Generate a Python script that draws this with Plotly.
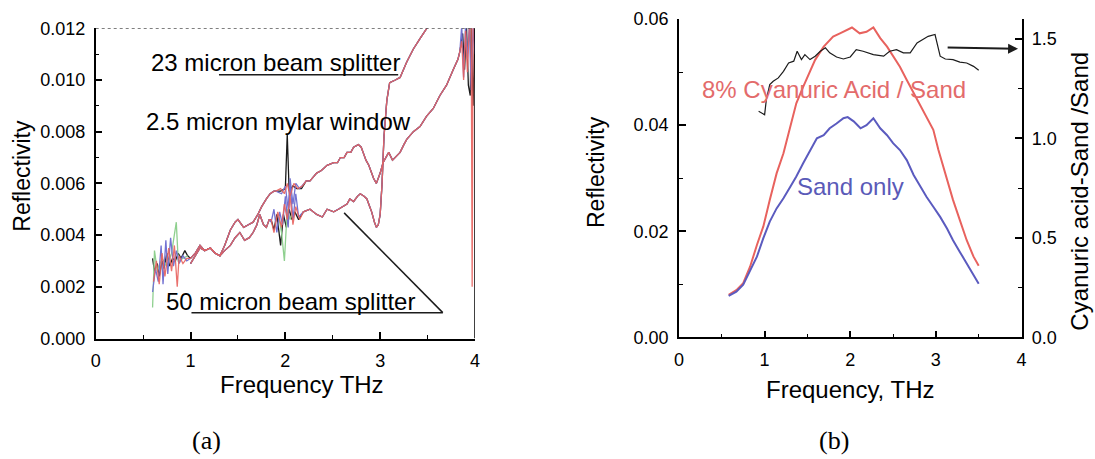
import plotly.graph_objects as go

# ---------------- Panel (a) data ----------------
# low-frequency noisy segment (per colour)
a_low_x_black = [0.60, 0.62, 0.65, 0.67, 0.70, 0.72, 0.75, 0.78, 0.81, 0.84, 0.87, 0.90, 0.94, 0.97]
a_low_y_black = [0.0031, 0.0026, 0.0029, 0.0024, 0.0030, 0.0027, 0.0033, 0.0028, 0.0031, 0.0030, 0.0033, 0.0031, 0.0034, 0.0032]
a_low_x_blue = [0.60, 0.63, 0.66, 0.69, 0.71, 0.74, 0.76, 0.79, 0.82, 0.85, 0.88, 0.92, 0.96]
a_low_y_blue = [0.0018, 0.0027, 0.0022, 0.0036, 0.0021, 0.0038, 0.0025, 0.0039, 0.0028, 0.0034, 0.0029, 0.0032, 0.0030]
a_low_x_red = [0.61, 0.64, 0.67, 0.70, 0.73, 0.77, 0.80, 0.83, 0.86, 0.88, 0.92, 0.96]
a_low_y_red = [0.0022, 0.0030, 0.0021, 0.0033, 0.0024, 0.0035, 0.0026, 0.0036, 0.0020, 0.0032, 0.0029, 0.0031]
a_low_x_green = [0.60, 0.62, 0.65, 0.70, 0.75, 0.80, 0.85, 0.87, 0.92, 0.97]
a_low_y_green = [0.0012, 0.0034, 0.0026, 0.0031, 0.0028, 0.0033, 0.0045, 0.0030, 0.0031, 0.0032]

# middle curve (window) shared parts
m_a_x = [1.00, 1.05, 1.10, 1.15, 1.21, 1.26, 1.31, 1.36, 1.42, 1.47, 1.50, 1.56, 1.61, 1.66, 1.71, 1.75, 1.80, 1.84, 1.88]
m_a_y = [0.0031, 0.0033, 0.0036, 0.0034, 0.0035, 0.0033, 0.0032, 0.0036, 0.0042, 0.0045, 0.0046, 0.0043, 0.0044, 0.0045, 0.0048, 0.0051, 0.0054, 0.0056, 0.0057]
m_b_x = [2.26, 2.33, 2.38, 2.44, 2.51, 2.55, 2.58, 2.62, 2.65, 2.69, 2.72, 2.77, 2.80, 2.82, 2.85, 2.88, 2.91, 2.93, 2.96, 3.00,
         3.03, 3.06, 3.09, 3.13, 3.16, 3.21, 3.25, 3.28, 3.35, 3.42, 3.49, 3.56, 3.63, 3.70, 3.77, 3.82]
m_b_y = [0.0061, 0.0064, 0.0065, 0.0067, 0.0068, 0.0068, 0.0070, 0.0070, 0.0072, 0.0072, 0.0074, 0.0075, 0.0074, 0.0072, 0.0069, 0.0067, 0.0064, 0.0062, 0.0060, 0.0064,
         0.0068, 0.0070, 0.0072, 0.0069, 0.0070, 0.0072, 0.0075, 0.0077, 0.0080, 0.0082, 0.0086, 0.0089, 0.0094, 0.0098, 0.0104, 0.0108]
# middle curve per-colour segments
m_mid_x_black = [1.90, 1.95, 2.00, 2.02, 2.04, 2.08, 2.12, 2.17, 2.22]
m_mid_y_black = [0.0057, 0.0057, 0.0058, 0.0079, 0.0057, 0.0059, 0.0058, 0.0058, 0.0061]
m_mid_x_blue = [1.90, 1.96, 2.00, 2.03, 2.05, 2.08, 2.11, 2.15, 2.22]
m_mid_y_blue = [0.0057, 0.0056, 0.0059, 0.0050, 0.0062, 0.0052, 0.0060, 0.0058, 0.0061]
m_mid_x_red = [1.90, 1.95, 1.99, 2.02, 2.05, 2.09, 2.13, 2.18, 2.22]
m_mid_y_red = [0.0057, 0.0058, 0.0056, 0.0060, 0.0055, 0.0060, 0.0058, 0.0059, 0.0061]
m_end_x_black = [3.84, 3.87, 3.89, 3.91, 3.93, 3.95, 3.96, 3.98, 4.00]
m_end_y_black = [0.0111, 0.0118, 0.0104, 0.0121, 0.0098, 0.0094, 0.0121, 0.0090, 0.0121]
m_end_x_blue = [3.84, 3.86, 3.88, 3.90, 3.92, 3.94, 3.96, 3.98, 4.00]
m_end_y_blue = [0.0111, 0.0121, 0.0101, 0.0121, 0.0108, 0.0121, 0.0096, 0.0121, 0.0110]
m_end_x_red = [3.84, 3.86, 3.88, 3.90, 3.92, 3.94, 3.96, 3.97, 3.98, 4.00]
m_end_y_red = [0.0111, 0.0115, 0.0100, 0.0119, 0.0103, 0.0120, 0.0121, 0.0020, 0.0121, 0.0121]

# lower curve (beam splitter) shared parts
l_a_x = [1.00, 1.05, 1.10, 1.15, 1.21, 1.26, 1.31, 1.36, 1.42, 1.47, 1.52, 1.57, 1.62, 1.66, 1.70, 1.73, 1.77, 1.80, 1.83]
l_a_y = [0.0029, 0.0032, 0.0035, 0.0034, 0.0035, 0.0033, 0.0032, 0.0034, 0.0036, 0.0039, 0.0041, 0.0038, 0.0039, 0.0041, 0.0044, 0.0048, 0.0044, 0.0043, 0.0046]
l_b_x = [2.26, 2.33, 2.39, 2.44, 2.51, 2.56, 2.61, 2.65, 2.68, 2.72, 2.76, 2.79, 2.83, 2.86, 2.89, 2.91, 2.94, 2.96, 2.98, 3.00,
         3.02, 3.04, 3.07, 3.10, 3.16, 3.21, 3.28, 3.35, 3.42, 3.51]
l_b_y = [0.0050, 0.0048, 0.0047, 0.0050, 0.0049, 0.0050, 0.0051, 0.0052, 0.0054, 0.0053, 0.0055, 0.0056, 0.0055, 0.0054, 0.0051, 0.0049, 0.0045, 0.0043, 0.0044, 0.0048,
         0.0060, 0.0078, 0.0092, 0.0099, 0.0100, 0.0101, 0.0107, 0.0112, 0.0116, 0.0121]
l_mid_x_black = [1.85, 1.88, 1.91, 1.95, 1.98, 2.01, 2.04, 2.07, 2.10, 2.14, 2.19]
l_mid_y_black = [0.0046, 0.0042, 0.0048, 0.0036, 0.0048, 0.0043, 0.0050, 0.0046, 0.0049, 0.0046, 0.0049]
l_mid_x_blue = [1.85, 1.88, 1.91, 1.94, 1.97, 2.00, 2.03, 2.05, 2.08, 2.11, 2.14, 2.19]
l_mid_y_blue = [0.0045, 0.0050, 0.0041, 0.0049, 0.0044, 0.0055, 0.0043, 0.0060, 0.0046, 0.0056, 0.0047, 0.0049]
l_mid_x_red = [1.85, 1.88, 1.92, 1.96, 1.99, 2.02, 2.05, 2.08, 2.11, 2.15, 2.19]
l_mid_y_red = [0.0046, 0.0041, 0.0049, 0.0043, 0.0052, 0.0046, 0.0055, 0.0044, 0.0051, 0.0046, 0.0049]
l_mid_x_green = [1.93, 1.96, 1.99, 2.02, 2.05, 2.08]
l_mid_y_green = [0.0047, 0.0041, 0.0030, 0.0050, 0.0046, 0.0049]

# ---------------- Panel (b) data ----------------
b_red_x = [0.58, 0.67, 0.75, 0.83, 0.91, 0.985, 1.06, 1.14, 1.22, 1.30, 1.37, 1.45, 1.53, 1.59, 1.69, 1.80, 1.88, 1.92, 2.02,
           2.11, 2.19, 2.27, 2.35, 2.43, 2.50, 2.58, 2.66, 2.74, 2.82, 2.89, 2.97, 3.03, 3.13, 3.20, 3.28, 3.36, 3.44, 3.50]
b_red_y = [0.0080, 0.0089, 0.0102, 0.0133, 0.0174, 0.0209, 0.0259, 0.0309, 0.0347, 0.0397, 0.0441, 0.0472, 0.0501, 0.0523, 0.0548, 0.0567, 0.0573, 0.0576, 0.0584,
           0.0573, 0.0576, 0.0584, 0.0564, 0.0548, 0.0529, 0.0510, 0.0485, 0.0460, 0.0435, 0.0413, 0.0391, 0.0353, 0.0297, 0.0259, 0.0221, 0.0183, 0.0152, 0.0135]
b_blue_x = [0.58, 0.67, 0.75, 0.83, 0.91, 0.985, 1.06, 1.14, 1.22, 1.30, 1.37, 1.45, 1.53, 1.61, 1.69, 1.76, 1.84, 1.92, 1.97,
            2.04, 2.12, 2.19, 2.27, 2.35, 2.43, 2.50, 2.58, 2.66, 2.74, 2.82, 2.89, 2.97, 3.05, 3.13, 3.20, 3.28, 3.36, 3.44, 3.50]
b_blue_y = [0.0078, 0.0086, 0.0099, 0.0124, 0.0152, 0.0187, 0.0218, 0.0243, 0.0262, 0.0284, 0.0303, 0.0328, 0.0353, 0.0375, 0.0381, 0.0394, 0.0403, 0.0413, 0.0415,
            0.0407, 0.0394, 0.0400, 0.0413, 0.0394, 0.0381, 0.0366, 0.0353, 0.0334, 0.0306, 0.0284, 0.0265, 0.0246, 0.0227, 0.0205, 0.0183, 0.0161, 0.0139, 0.0117, 0.0101]
b_ratio_x = [0.93, 0.97, 1.00, 1.02, 1.06, 1.10, 1.16, 1.22, 1.28, 1.34, 1.38, 1.43, 1.47, 1.53, 1.59, 1.65, 1.71, 1.76, 1.84, 1.92,
             2.00, 2.07, 2.15, 2.27, 2.39, 2.46, 2.54, 2.62, 2.70, 2.78, 2.85, 2.91, 2.99, 3.05, 3.11, 3.20, 3.28, 3.36, 3.44, 3.50]
b_ratio_y = [1.136, 1.128, 1.119, 1.195, 1.270, 1.287, 1.304, 1.337, 1.379, 1.388, 1.438, 1.396, 1.421, 1.396, 1.413, 1.438, 1.455, 1.430, 1.409, 1.399,
             1.409, 1.446, 1.438, 1.421, 1.413, 1.438, 1.446, 1.430, 1.430, 1.480, 1.497, 1.513, 1.522, 1.413, 1.399, 1.396, 1.383, 1.379, 1.362, 1.342]

x_ticks = [0, 1, 2, 3, 4]

W, H = 1095, 459
BLACK = "#1c1c1c"
RED = "#e8625e"
BLUE = "#5b5bbf"
BLUE_A = "#7373d2"
GREEN = "#8fd08f"
FONT = "Liberation Sans, Arial, sans-serif"


def px(x):
    return x / W


def py(y):
    return 1 - y / H


fig = go.Figure()


def add_a(xs, ys, color, width=1.3, opacity=1.0):
    fig.add_trace(go.Scatter(x=xs, y=ys, mode="lines", line=dict(color=color, width=width),
                             opacity=opacity, xaxis="x", yaxis="y", showlegend=False, hoverinfo="skip"))


# panel (a): two curves, each recorded several times (black, green, blue, red)
add_a(a_low_x_black + m_a_x + m_mid_x_black + m_b_x + m_end_x_black,
      a_low_y_black + m_a_y + m_mid_y_black + m_b_y + m_end_y_black, BLACK)
add_a(l_a_x + l_mid_x_black + l_b_x, l_a_y + l_mid_y_black + l_b_y, BLACK)
add_a(a_low_x_green, a_low_y_green, GREEN)
add_a(l_mid_x_green, l_mid_y_green, GREEN)
add_a(a_low_x_blue + m_a_x + m_mid_x_blue + m_b_x + m_end_x_blue,
      a_low_y_blue + m_a_y + m_mid_y_blue + m_b_y + m_end_y_blue, BLUE_A)
add_a(l_a_x + l_mid_x_blue + l_b_x, l_a_y + l_mid_y_blue + l_b_y, BLUE_A)
add_a(a_low_x_red + m_a_x + m_mid_x_red + m_b_x + m_end_x_red,
      a_low_y_red + m_a_y + m_mid_y_red + m_b_y + m_end_y_red, RED, opacity=0.9)
add_a(l_a_x + l_mid_x_red + l_b_x, l_a_y + l_mid_y_red + l_b_y, RED, opacity=0.9)

# panel (b)
fig.add_trace(go.Scatter(x=b_ratio_x, y=b_ratio_y, mode="lines", line=dict(color=BLACK, width=1.2),
                         xaxis="x2", yaxis="y3", showlegend=False, hoverinfo="skip"))
fig.add_trace(go.Scatter(x=b_red_x, y=b_red_y, mode="lines", line=dict(color=RED, width=2),
                         xaxis="x2", yaxis="y2", showlegend=False, hoverinfo="skip"))
fig.add_trace(go.Scatter(x=b_blue_x, y=b_blue_y, mode="lines", line=dict(color=BLUE, width=2),
                         xaxis="x2", yaxis="y2", showlegend=False, hoverinfo="skip"))

tickfont = dict(family=FONT, size=18, color="black")
minor_style = dict(ticks="inside", ticklen=4, tickcolor="black", tickwidth=1.2)
common = dict(showline=True, linecolor="black", linewidth=1.5, ticks="inside", ticklen=7, tickwidth=1.5,
              tickcolor="black", showgrid=False, zeroline=False, tickfont=tickfont, ticklabelstandoff=5,
              automargin=False)

fig.update_layout(
    width=W, height=H, margin=dict(l=0, r=0, t=0, b=0, autoexpand=False),
    paper_bgcolor="white", plot_bgcolor="white",
    xaxis=dict(domain=[px(95.7), px(475)], range=[0, 4], tickvals=x_ticks, anchor="y",
               minor=dict(dtick=0.5, **minor_style), **common),
    yaxis=dict(domain=[py(338.5), py(28.3)], range=[0, 0.012], dtick=0.002, tickformat=".3f", anchor="x",
               minor=dict(dtick=0.001, **minor_style), **common),
    xaxis2=dict(domain=[px(679), px(1021.5)], range=[0, 4], tickvals=x_ticks, anchor="y2",
                minor=dict(dtick=0.5, **minor_style), **common),
    yaxis2=dict(domain=[py(337.3), py(19)], range=[0, 0.06], dtick=0.02, tickformat=".2f", anchor="x2",
                minor=dict(dtick=0.01, **minor_style), **common),
    yaxis3=dict(range=[0, 1.6], dtick=0.5, tickformat=".1f", anchor="x2", overlaying="y2", side="right",
                minor=dict(dtick=0.25, **minor_style), **common),
)

# frame of panel (a): dotted top, solid right
fig.add_shape(type="line", xref="x", yref="y", x0=0, y0=0.012, x1=4, y1=0.012,
              line=dict(color="#555555", width=1.2, dash="dot"))
fig.add_shape(type="line", xref="x", yref="y", x0=4, y0=0, x1=4, y1=0.012,
              line=dict(color="black", width=1.5))

# leader lines in panel (a)
line_style = dict(color=BLACK, width=1.5)
fig.add_shape(type="line", xref="x", yref="y", x0=1.30, y0=0.0102, x1=3.19, y1=0.0102, line=line_style)
fig.add_shape(type="line", xref="x", yref="y", x0=1.01, y0=0.0010, x1=3.66, y1=0.0010, line=line_style)
fig.add_shape(type="line", xref="x", yref="y", x0=3.66, y0=0.0010, x1=2.62, y1=0.00486, line=line_style)


def text(s, x, y, size=24, color="black", angle=0, family=FONT):
    fig.add_annotation(text=s, x=px(x), y=py(y), xref="paper", yref="paper", showarrow=False,
                       xanchor="center", yanchor="middle", textangle=angle,
                       font=dict(family=family, size=size, color=color))


text("23 micron beam splitter", 275, 63)
text("2.5 micron mylar window", 278.3, 121.3)
text("50 micron beam splitter", 290.5, 301.7)
text("8% Cyanuric Acid / Sand", 834, 90, color="#e36b6b")
text("Sand only", 850, 186.7, color="#5a5ab8")
text("Reflectivity", 21.7, 176, size=23, angle=-90)
text("Reflectivity", 596, 172, size=23, angle=-90)
text("Cyanuric acid-Sand /Sand", 1080, 191.7, size=24, angle=-90)
text("Frequency THz", 302, 384, size=24)
text("Frequency, THz", 850, 389, size=24)
text("(a)", 206, 440, size=26, family="Liberation Serif, Times New Roman, serif")
text("(b)", 834, 440, size=26, family="Liberation Serif, Times New Roman, serif")

# arrow pointing to the right axis
fig.add_annotation(x=3.96, y=1.45, xref="x2", yref="y3", ax=3.12, ay=1.457, axref="x2", ayref="y3",
                   showarrow=True, arrowhead=2, arrowsize=1, arrowwidth=2, arrowcolor=BLACK, text="")

fig.write_html("out.html")
